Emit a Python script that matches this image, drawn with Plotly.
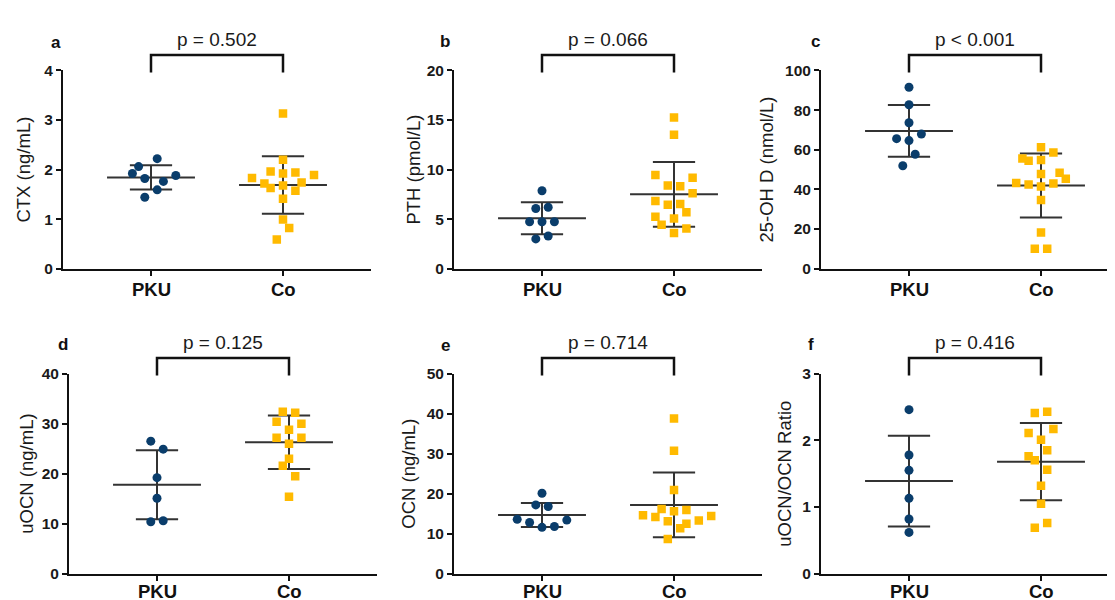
import plotly.graph_objects as go

W, H = 1115, 600
groups = ["PKU", "Co"]

# ---------------- data ----------------
# a: CTX (ng/mL)
ctx_pku = [2.22, 2.06, 1.92, 1.82, 1.76, 1.88, 1.59, 1.44]
ctx_co = [3.13, 2.20, 1.83, 1.96, 1.92, 1.94, 1.89, 1.72, 1.63, 1.68, 1.74, 1.57, 1.41, 0.99, 0.82, 0.59]
ctx_mean = [1.84, 1.69]
ctx_sd = [0.245, 0.58]

# b: PTH (pmol/L)
pth_pku = [7.86, 6.07, 6.20, 4.73, 4.73, 4.73, 3.00, 3.30]
pth_co = [15.24, 13.51, 9.46, 9.17, 8.38, 8.32, 7.60, 6.82, 6.46, 6.53, 5.68, 5.25, 5.06, 4.44, 4.05, 3.59]
pth_mean = [5.09, 7.50]
pth_sd = [1.62, 3.26]

# c: 25-OH D (nmol/L)
vitd_pku = [91.5, 82.7, 73.6, 65.6, 64.6, 67.9, 57.7, 51.9]
vitd_co = [61.3, 58.6, 55.6, 54.5, 54.8, 48.4, 47.8, 45.4, 43.2, 42.4, 42.9, 41.4, 34.7, 18.3, 10.1, 10.1]
vitd_mean = [69.5, 41.9]
vitd_sd = [13.05, 16.15]

# d: uOCN (ng/mL)
uocn_pku = [26.5, 24.9, 19.2, 15.1, 10.4, 10.6]
uocn_co = [32.4, 32.2, 30.4, 30.0, 28.8, 27.2, 27.2, 26.0, 23.0, 21.6, 19.5, 15.4]
uocn_mean = [17.8, 26.3]
uocn_sd = [6.9, 5.35]

# e: OCN (ng/mL)
ocn_pku = [20.1, 17.2, 16.8, 13.6, 12.8, 13.4, 11.6, 11.8]
ocn_co = [38.8, 30.7, 20.9, 16.2, 14.6, 14.2, 15.6, 15.9, 14.4, 13.1, 13.3, 12.5, 11.4, 8.7]
ocn_mean = [14.7, 17.2]
ocn_sd = [3.0, 8.1]

# f: uOCN/OCN ratio
ratio_pku = [2.46, 1.78, 1.55, 1.13, 0.82, 0.62]
ratio_co = [2.41, 2.43, 2.11, 2.17, 2.01, 1.85, 1.76, 1.70, 1.56, 1.32, 1.05, 0.76, 0.69]
ratio_mean = [1.39, 1.68]
ratio_sd = [0.68, 0.58]

p_texts = ["p = 0.502", "p = 0.066", "p < 0.001", "p = 0.125", "p = 0.714", "p = 0.416"]
y_titles = ["CTX (ng/mL)", "PTH (pmol/L)", "25-OH D (nmol/L)",
            "uOCN (ng/mL)", "OCN (ng/mL)", "uOCN/OCN Ratio"]
letters = ["a", "b", "c", "d", "e", "f"]
y_max = [4, 20, 100, 40, 50, 3]
y_dtick = [1, 5, 20, 10, 10, 1]

# horizontal scatter slots (dot-plot spreading), in half-marker steps
slots_pku = [
    [1, -2, -3, -1, 2, 4, 1, -1],
    [0, -1, 1, -2, 0, 2, -1, 1],
    [0, 0, 0, -2, 0, 2, 1, -1],
    [-1, 1, 0, 0, -1, 1],
    [0, -1, 1, -4, -2, 4, 0, 2],
    [0, 0, 0, 0, 0, 0],
]
slots_co = [
    [0, 0, -5, -2, 0, 2, 5, -3, -2, 0, 3, 2, 0, 0, 1, -1],
    [0, 0, -3, 3, -1, 1, 3, -3, -1, 1, 2, -3, 0, -2, 2, 0],
    [0, 2, -3, -2, 0, 3, 0, 4, -4, -2, 2, 0, 0, 0, -1, 1],
    [-1, 1, -2, 2, 0, -2, 2, 0, 0, -1, 1, 0],
    [0, 0, 0, -2, -5, -3, 0, 2, 6, -1, 4, 2, 1, -1],
    [-1, 1, -2, 2, 0, 1, -2, -1, 1, 0, 0, 1, -1],
]

pku_vals = [ctx_pku, pth_pku, vitd_pku, uocn_pku, ocn_pku, ratio_pku]
co_vals = [ctx_co, pth_co, vitd_co, uocn_co, ocn_co, ratio_co]
means = [ctx_mean, pth_mean, vitd_mean, uocn_mean, ocn_mean, ratio_mean]
sds = [ctx_sd, pth_sd, vitd_sd, uocn_sd, ocn_sd, ratio_sd]

# ---------------- layout geometry (pixels) ----------------
PX_PER_UNIT = 132.0
SLOT = 6.2 / PX_PER_UNIT
X0 = -88.0 / PX_PER_UNIT
x_dom_px = [(55, 363), (446, 754), (813, 1115), (61, 369), (446, 754), (813, 1115)]
y_dom_px = [(55, 259)] * 3 + [(367, 573)] * 3
label_gap = [21, 21, 21, 18, 18, 18]
title_off = [39, 40, 54, 42, 45, 36]
letter_px = [(48, 26), (437, 25), (807, 25), (55, 337), (437, 338), (803, 337)]

C_PKU = "#0a3d6b"
C_CO = "#ffba00"
C_LINE = "#333333"
FONT = "Liberation Sans, Arial, sans-serif"


def fx(p):
    return p / W


def fy(p):
    return 1 - p / H


fig = go.Figure()
layout = dict(
    width=W, height=H, margin=dict(l=0, r=0, t=0, b=0),
    paper_bgcolor="white", plot_bgcolor="white", showlegend=False,
    font=dict(family=FONT, color="#1a1a1a"),
)
shapes = []
annotations = []

for i in range(6):
    ax = "" if i == 0 else str(i + 1)
    xa, ya = "x" + ax, "y" + ax
    x_lo, x_hi = x_dom_px[i]
    y_top, y_bot = y_dom_px[i]
    x_rng = [X0, X0 + (x_hi - x_lo) / PX_PER_UNIT]

    # mean and SD lines
    lx, ly = [], []
    for g in range(2):
        m, s = means[i][g], sds[i][g]
        lx += [g - 0.333, g + 0.333, None, g, g, None,
               g - 0.16, g + 0.16, None, g - 0.16, g + 0.16, None]
        ly += [m, m, None, m - s, m + s, None,
               m + s, m + s, None, m - s, m - s, None]
    fig.add_trace(go.Scatter(x=lx, y=ly, mode="lines", xaxis=xa, yaxis=ya,
                             line=dict(color=C_LINE, width=2), hoverinfo="skip"))

    fig.add_trace(go.Scatter(
        x=[0 + k * SLOT for k in slots_pku[i]], y=pku_vals[i], mode="markers",
        xaxis=xa, yaxis=ya, name="PKU",
        marker=dict(symbol="circle", size=9, color=C_PKU, line=dict(width=0))))
    fig.add_trace(go.Scatter(
        x=[1 + k * SLOT for k in slots_co[i]], y=co_vals[i], mode="markers",
        xaxis=xa, yaxis=ya, name="Co",
        marker=dict(symbol="square", size=8.5, color=C_CO, line=dict(width=0))))

    axis_common = dict(showline=True, linecolor="#111111", linewidth=2,
                       ticks="outside", tickcolor="#111111", tickwidth=2,
                       showgrid=False, zeroline=False, fixedrange=True)
    layout["xaxis" + ax] = dict(
        domain=[fx(x_lo), fx(x_hi)], range=x_rng, anchor=ya,
        tickvals=[0, 1], showticklabels=False, ticklen=5,
        **axis_common)
    layout["yaxis" + ax] = dict(
        domain=[fy(y_bot), fy(y_top)], range=[0, y_max[i]], anchor=xa,
        dtick=y_dtick[i], tick0=0, ticklen=5,
        tickfont=dict(size=15.5, weight="bold", color="#1a1a1a"),
        **axis_common)

    # category labels
    for g in range(2):
        annotations.append(dict(xref=xa, yref="paper", x=g, y=fy(y_bot + label_gap[i]),
                                text=groups[g], showarrow=False,
                                font=dict(size=18.5, weight="bold", color="#111111"),
                                xanchor="center", yanchor="middle"))

    # significance bracket
    br_top = fy(y_top - 16)
    br_leg = fy(y_top + 2)
    shapes.append(dict(type="path", xref=xa, yref="paper",
                       path=f"M 0,{br_leg} L 0,{br_top} L 1,{br_top} L 1,{br_leg}",
                       line=dict(color="#111111", width=2.5)))
    annotations.append(dict(xref=xa, yref="paper", x=0.5, y=fy(y_top - 32),
                            text=p_texts[i], showarrow=False,
                            font=dict(size=19, color="#1a1a1a"),
                            xanchor="center", yanchor="middle"))
    # y title
    annotations.append(dict(xref="paper", yref="paper",
                            x=fx(x_lo - title_off[i]), y=fy((y_top + y_bot) / 2),
                            text=y_titles[i], textangle=-90, showarrow=False,
                            font=dict(size=18.5, color="#1a1a1a"),
                            xanchor="center", yanchor="middle"))
    # panel letter
    lxp, lyp = letter_px[i]
    annotations.append(dict(xref="paper", yref="paper", x=fx(lxp), y=fy(lyp),
                            text=letters[i], showarrow=False,
                            font=dict(size=17, weight="bold", color="#111111"),
                            xanchor="center", yanchor="middle"))

layout["shapes"] = shapes
layout["annotations"] = annotations
fig.update_layout(**layout)
fig.write_html("out.html")
